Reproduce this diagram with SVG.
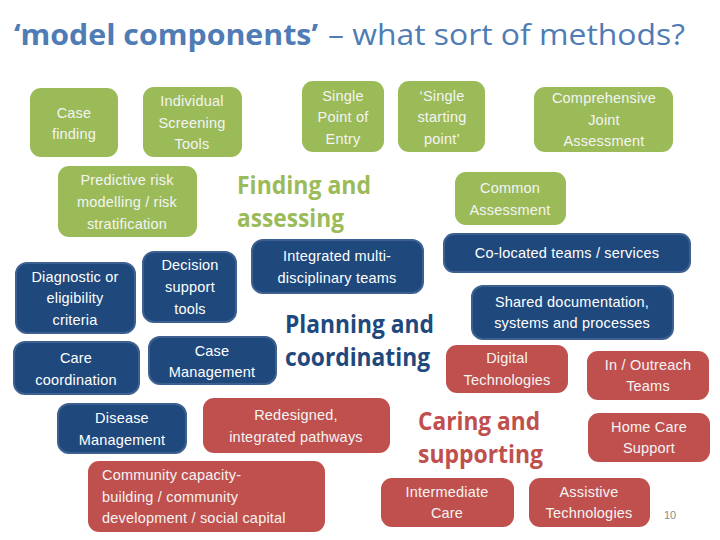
<svg xmlns="http://www.w3.org/2000/svg" width="720" height="540" viewBox="0 0 720 540">
<style>
.g rect{fill:#9bbb59}
.b rect{fill:#1f497d;stroke:#3d6090;stroke-width:2}
.r rect{fill:#c0504d}
.node text{font-family:"Liberation Sans",Arial,sans-serif;font-size:14.5px;text-anchor:middle;letter-spacing:0.2px}
.g text,.r text{fill:#f4f4f4}
.b text{fill:#ffffff}
.h{font-family:"Open Sans","Liberation Sans",sans-serif;font-weight:bold;font-size:25px}
.title{font-family:"Open Sans","Liberation Sans",sans-serif;font-size:29px;fill:#4f7cb5}
</style>
<rect width="720" height="540" fill="#ffffff"/>
<text class="title" x="14" y="45" font-weight="bold" textLength="304" lengthAdjust="spacingAndGlyphs">‘model components’</text>
<text class="title" x="328" y="45" textLength="357" lengthAdjust="spacingAndGlyphs">– what sort of methods?</text>

<g id="labels">
<text class="h" fill="#9bbb59" x="237" y="194" textLength="134" lengthAdjust="spacingAndGlyphs">Finding and</text>
<text class="h" fill="#9bbb59" x="237" y="227" textLength="107" lengthAdjust="spacingAndGlyphs">assessing</text>
<text class="h" fill="#1f497d" x="285" y="333" textLength="149" lengthAdjust="spacingAndGlyphs">Planning and</text>
<text class="h" fill="#1f497d" x="285" y="366" textLength="145" lengthAdjust="spacingAndGlyphs">coordinating</text>
<text class="h" fill="#c0504d" x="418" y="430" textLength="122" lengthAdjust="spacingAndGlyphs">Caring and</text>
<text class="h" fill="#c0504d" x="418" y="463" textLength="125" lengthAdjust="spacingAndGlyphs">supporting</text>
</g>

<g id="connectors"></g>

<g id="case-finding" class="node g"><rect x="30" y="88" width="88" height="69" rx="11"/><text x="74" y="118">Case</text><text x="74" y="139">finding</text></g>
<g id="individual-screening" class="node g"><rect x="143" y="87" width="99" height="70" rx="11"/><text x="192" y="106">Individual</text><text x="192" y="128">Screening</text><text x="192" y="149">Tools</text></g>
<g id="predictive-risk" class="node g"><rect x="58" y="166" width="139" height="71" rx="11"/><text x="127" y="185">Predictive risk</text><text x="127" y="207">modelling / risk</text><text x="127" y="229">stratification</text></g>
<g id="single-point" class="node g"><rect x="302" y="81" width="82" height="71" rx="11"/><text x="343" y="101">Single</text><text x="343" y="122">Point of</text><text x="343" y="144">Entry</text></g>
<g id="single-starting" class="node g"><rect x="398" y="81" width="87" height="71" rx="11"/><text x="442" y="101">‘Single</text><text x="442" y="122">starting</text><text x="442" y="144">point’</text></g>
<g id="comprehensive" class="node g"><rect x="534" y="87" width="139" height="65" rx="11"/><text x="604" y="103">Comprehensive</text><text x="604" y="125">Joint</text><text x="604" y="146">Assessment</text></g>
<g id="common-assessment" class="node g"><rect x="455" y="172" width="111" height="53" rx="11"/><text x="510" y="193">Common</text><text x="510" y="215">Assessment</text></g>

<g id="diagnostic" class="node b"><rect x="16" y="263" width="119" height="70" rx="11"/><text x="75" y="282">Diagnostic or</text><text x="75" y="303">eligibility</text><text x="75" y="325">criteria</text></g>
<g id="decision-support" class="node b"><rect x="143" y="252" width="93" height="70" rx="11"/><text x="190" y="270">Decision</text><text x="190" y="292">support</text><text x="190" y="314">tools</text></g>
<g id="integrated-mdt" class="node b"><rect x="252" y="240" width="171" height="53" rx="11"/><text x="337" y="261">Integrated multi-</text><text x="337" y="283">disciplinary teams</text></g>
<g id="co-located" class="node b"><rect x="444" y="234" width="246" height="38" rx="10"/><text x="567" y="258">Co-located teams / services</text></g>
<g id="shared-doc" class="node b"><rect x="472" y="286" width="201" height="53" rx="11"/><text x="572" y="307">Shared documentation,</text><text x="572" y="328">systems and processes</text></g>
<g id="care-coordination" class="node b"><rect x="14" y="342" width="125" height="52" rx="11"/><text x="76" y="363">Care</text><text x="76" y="385">coordination</text></g>
<g id="case-management" class="node b"><rect x="149" y="337" width="127" height="47" rx="11"/><text x="212" y="356">Case</text><text x="212" y="377">Management</text></g>
<g id="disease-management" class="node b"><rect x="58" y="404" width="128" height="49" rx="11"/><text x="122" y="423">Disease</text><text x="122" y="445">Management</text></g>

<g id="digital" class="node r"><rect x="446" y="345" width="122" height="48" rx="11"/><text x="507" y="363">Digital</text><text x="507" y="385">Technologies</text></g>
<g id="outreach" class="node r"><rect x="587" y="351" width="122" height="49" rx="11"/><text x="648" y="370">In / Outreach</text><text x="648" y="391">Teams</text></g>
<g id="redesigned" class="node r"><rect x="203" y="398" width="187" height="55" rx="11"/><text x="296" y="420">Redesigned,</text><text x="296" y="442">integrated pathways</text></g>
<g id="home-care" class="node r"><rect x="588" y="413" width="122" height="49" rx="11"/><text x="649" y="432">Home Care</text><text x="649" y="453">Support</text></g>
<g id="community" class="node r"><rect x="88" y="461" width="237" height="71" rx="11"/><text x="102" y="480" style="text-anchor:start">Community capacity-</text><text x="102" y="502" style="text-anchor:start">building / community</text><text x="102" y="523" style="text-anchor:start">development / social capital</text></g>
<g id="intermediate" class="node r"><rect x="381" y="478" width="133" height="49" rx="11"/><text x="447" y="497">Intermediate</text><text x="447" y="518">Care</text></g>
<g id="assistive" class="node r"><rect x="529" y="478" width="121" height="49" rx="11"/><text x="589" y="497">Assistive</text><text x="589" y="518">Technologies</text></g>

<text x="670" y="519" font-family="Liberation Sans,sans-serif" font-size="11" fill="#8c8c8c" text-anchor="middle">10</text>
</svg>
